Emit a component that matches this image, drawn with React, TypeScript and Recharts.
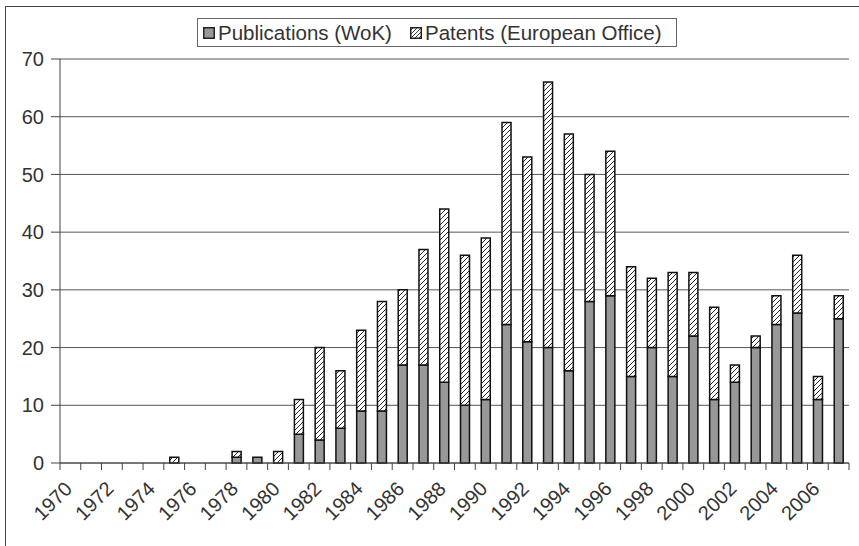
import { Bar, BarChart, CartesianGrid, Legend, XAxis, YAxis } from 'recharts'

const years = [
  1970, 1971, 1972, 1973, 1974, 1975, 1976, 1977, 1978, 1979, 1980, 1981, 1982,
  1983, 1984, 1985, 1986, 1987, 1988, 1989, 1990, 1991, 1992, 1993, 1994, 1995,
  1996, 1997, 1998, 1999, 2000, 2001, 2002, 2003, 2004, 2005, 2006, 2007,
]
const publications = [
  0, 0, 0, 0, 0, 0, 0, 0, 1, 1, 0, 5, 4, 6, 9, 9, 17, 17, 14, 10, 11, 24, 21, 20,
  16, 28, 29, 15, 20, 15, 22, 11, 14, 20, 24, 26, 11, 25,
]
const patents = [
  0, 0, 0, 0, 0, 1, 0, 0, 1, 0, 2, 6, 16, 10, 14, 19, 13, 20, 30, 26, 28, 35, 32,
  46, 41, 22, 25, 19, 12, 18, 11, 16, 3, 2, 5, 10, 4, 4,
]
const yTicks = [0, 10, 20, 30, 40, 50, 60, 70]

const SERIES = [
  { key: 'pub', name: 'Publications (WoK)', fill: '#989898' },
  { key: 'pat', name: 'Patents (European Office)', fill: 'url(#hatch)' },
]

const W = 859
const H = 546
const M = { top: 30, right: 10, left: 6, bottom: 0 }
const Y_W = 54
const PLOT_W = W - M.left - M.right - Y_W
const FONT = '"Liberation Sans", Arial, sans-serif'
const TXT = '#333'

const rows = years.map((y, i) => ({ year: y, pub: publications[i], pat: patents[i] }))

function XTick(props: any) {
  const { x, y, index, payload } = props
  const half = PLOT_W / years.length / 2
  const last = index === years.length - 1
  const tx = x + 3
  const ty = y + 27
  return (
    <g>
      <line x1={x - half} x2={x - half} y1={y} y2={y + 7} stroke="#444" />
      {last && <line x1={x + half} x2={x + half} y1={y} y2={y + 7} stroke="#444" />}
      {index % 2 === 0 && (
        <text
          x={tx}
          y={ty}
          textAnchor="end"
          transform={`rotate(-45, ${tx}, ${ty})`}
          fontSize={20}
          fontFamily={FONT}
          fill={TXT}
        >
          {payload.value}
        </text>
      )}
    </g>
  )
}

function LegendBox() {
  return (
    <div
      style={{
        display: 'flex',
        alignItems: 'center',
        boxSizing: 'border-box',
        width: 480,
        height: 29,
        border: '1.5px solid #666',
        padding: '0 5px',
        fontFamily: FONT,
        fontSize: 20.5,
        color: TXT,
        background: '#fff',
        whiteSpace: 'nowrap',
      }}
    >
      {SERIES.map((s, i) => (
        <span key={s.key} style={{ display: 'flex', alignItems: 'center', marginLeft: i ? 18 : 0 }}>
          <svg width={12} height={12} style={{ marginRight: 3 }}>
            <defs>
              <pattern id={`lg${i}`} patternUnits="userSpaceOnUse" width={4} height={4}>
                <rect width={4} height={4} fill="#fff" />
                <path d="M0,4 L4,0 M-1,1 L1,-1 M3,5 L5,3" stroke="#111" strokeWidth={0.8} />
              </pattern>
            </defs>
            <rect x={0.75} y={0.75} width={10.5} height={10.5} fill={i ? `url(#lg${i})` : s.fill} stroke="#222" strokeWidth={1.5} />
          </svg>
          {s.name}
        </span>
      ))}
    </div>
  )
}

export default function App() {
  return (
    <div style={{ position: 'absolute', left: 0, top: 0, width: W, height: H, overflow: 'hidden', background: '#fff' }}>
      <div
        style={{
          position: 'absolute',
          left: 5,
          top: 6,
          width: 900,
          height: 600,
          borderTop: '1.5px solid #444',
          borderLeft: '1.5px solid #444',
        }}
      />
      <div style={{ position: 'absolute', left: 0, top: 0 }}>
        <BarChart width={W} height={H} data={rows} margin={M} barSize={9}>
          <defs>
            <pattern id="hatch" patternUnits="userSpaceOnUse" width={5} height={5}>
              <rect width={5} height={5} fill="#fff" />
              <path d="M0,5 L5,0 M-1,1 L1,-1 M4,6 L6,4" stroke="#111" strokeWidth={0.9} />
            </pattern>
          </defs>
          <CartesianGrid vertical={false} stroke="#555" />
          <Legend
            verticalAlign="top"
            content={<LegendBox />}
            wrapperStyle={{ position: 'absolute', top: 18, left: 197, width: 480, height: 29 }}
          />
          <XAxis
            dataKey="year"
            height={83}
            interval={0}
            tickLine={false}
            tickSize={0}
            tickMargin={0}
            axisLine={{ stroke: '#444' }}
            tick={<XTick />}
          />
          <YAxis
            width={Y_W}
            domain={[0, 70]}
            ticks={yTicks}
            tickSize={9}
            tickMargin={7}
            axisLine={{ stroke: '#444' }}
            tickLine={{ stroke: '#444' }}
            tick={{ fontSize: 20, fontFamily: FONT, fill: TXT }}
          />
          <YAxis yAxisId="r" orientation="right" width={0} tick={false} tickLine={false} axisLine={{ stroke: '#aaa' }} />
          {SERIES.map((s) => (
            <Bar
              key={s.key}
              dataKey={s.key}
              name={s.name}
              stackId="a"
              fill={s.fill}
              stroke="#111"
              strokeWidth={1.5}
              isAnimationActive={false}
            />
          ))}
        </BarChart>
      </div>
    </div>
  )
}
